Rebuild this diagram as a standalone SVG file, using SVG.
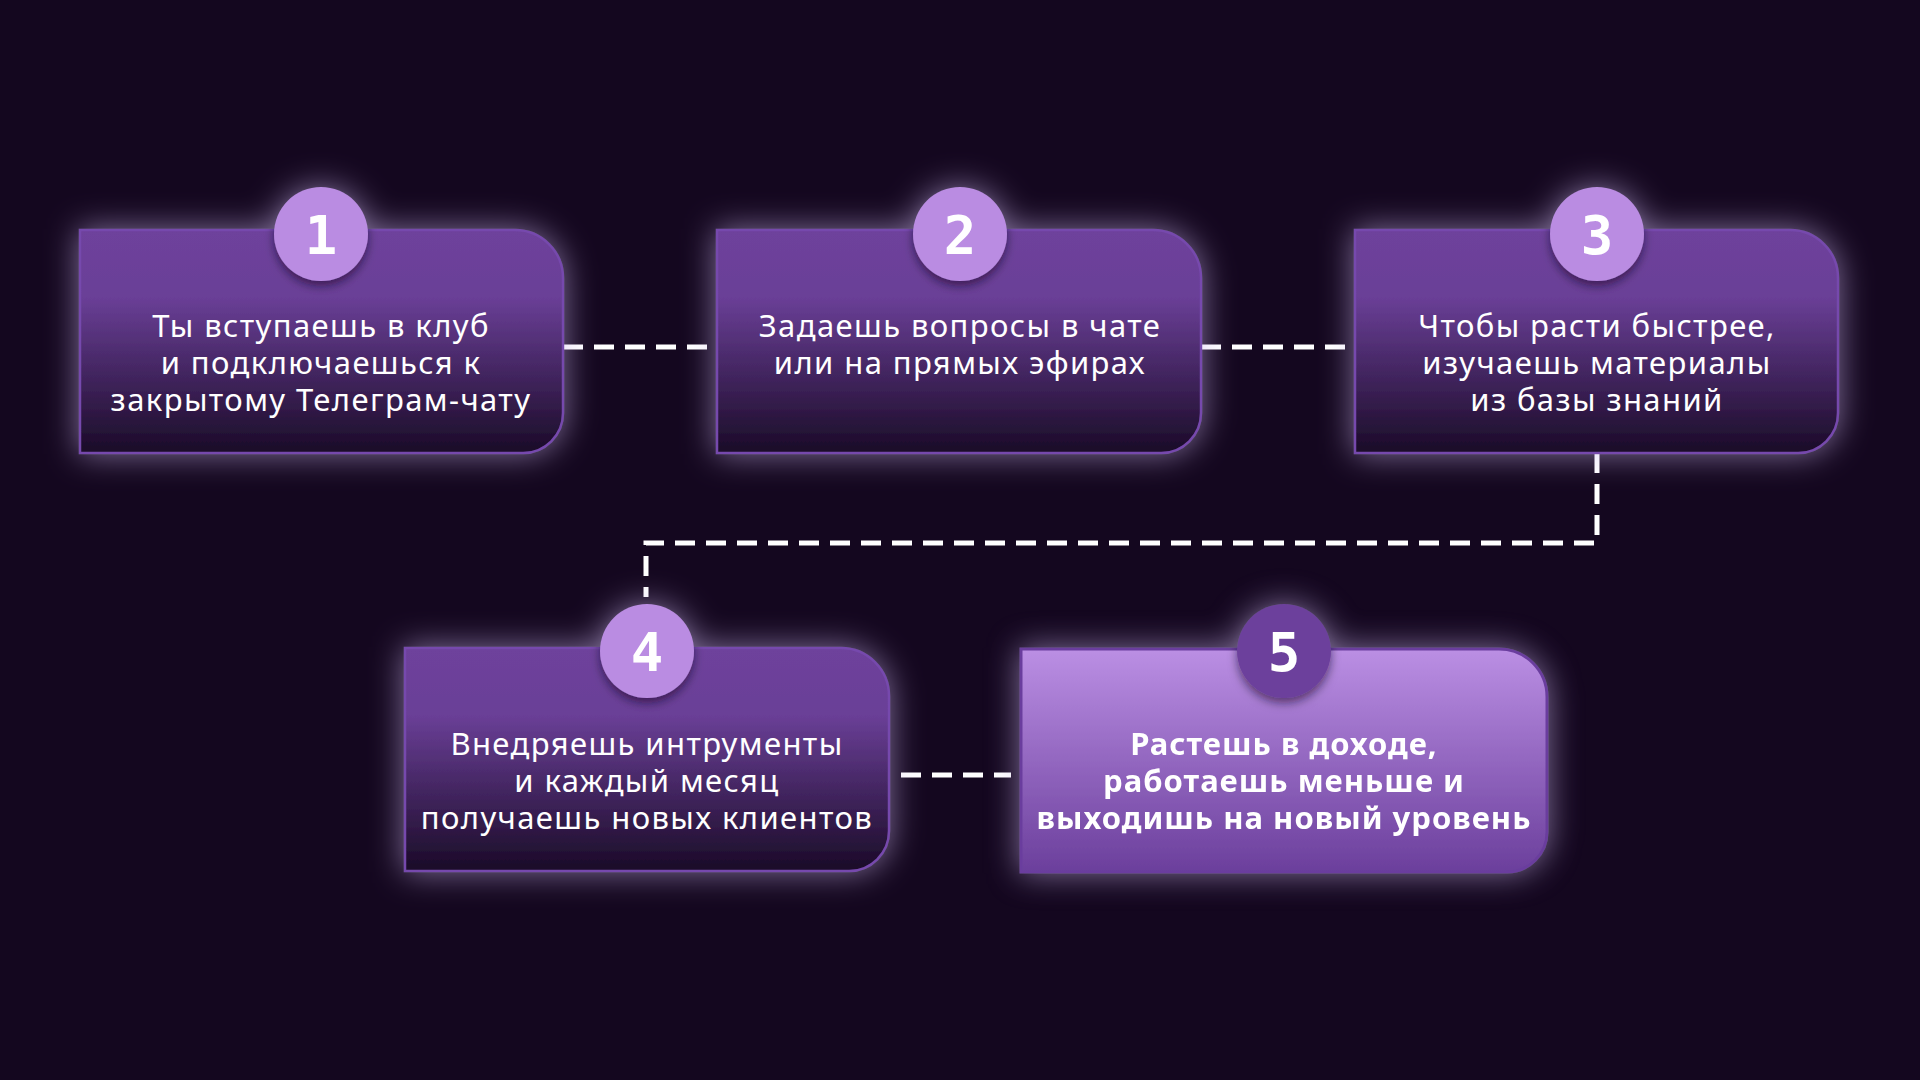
<svg xmlns="http://www.w3.org/2000/svg" width="1920" height="1080" viewBox="0 0 1920 1080">
  <defs>
    <linearGradient id="gDark" x1="0" y1="0" x2="0" y2="1">
      <stop offset="0" stop-color="#6e429c"/>
      <stop offset="0.3" stop-color="#6a3f97"/>
      <stop offset="1" stop-color="#1a0b27"/>
    </linearGradient>
    <linearGradient id="gLight" x1="0" y1="0" x2="0" y2="1">
      <stop offset="0" stop-color="#bb8fe4"/>
      <stop offset="1" stop-color="#6b3f9c"/>
    </linearGradient>
    <filter id="glow" x="-20%" y="-30%" width="140%" height="160%">
      <feFlood flood-color="#cdb8ee" flood-opacity="0.6" result="c"/>
      <feComposite in="c" in2="SourceAlpha" operator="in" result="s"/>
      <feGaussianBlur in="s" stdDeviation="16" result="b"/>
      <feMerge>
        <feMergeNode in="b"/>
        <feMergeNode in="SourceGraphic"/>
      </feMerge>
    </filter>
    <filter id="shadow" x="-30%" y="-30%" width="160%" height="170%">
      <feDropShadow dx="0" dy="5" stdDeviation="5" flood-color="#12061c" flood-opacity="0.55"/>
    </filter>
  </defs>
  <style>
    .box-dark { fill: url(#gDark); stroke: #7648ad; stroke-width: 2.5; }
    .box-light { fill: url(#gLight); stroke: #6a3e9e; stroke-width: 3; }
    .c-light { fill: #ba8ce2; }
    .c-dark { fill: #6c409c; }
    .num { font-family: "DejaVu Sans Mono", "Liberation Mono", monospace; font-weight: bold; font-size: 54px; fill: #ffffff; text-anchor: middle; }
    .txt { font-family: "Noto Sans", "Open Sans", sans-serif; font-size: 31px; letter-spacing: 1.4px; fill: #ffffff; text-anchor: middle; }
    .bold { font-weight: bold; letter-spacing: 1px; }
    .conn { fill: none; stroke: #ffffff; stroke-width: 5; stroke-dasharray: 20 11; }
  </style>
  <rect width="1920" height="1080" fill="#14071f"/>

  <g id="connectors">
    <path class="conn" d="M563 347 H717"/>
    <path class="conn" d="M1201 347 H1355"/>
    <path class="conn" d="M1597 453 V543 H646 V597"/>
    <path class="conn" d="M901 775 H1011"/>
  </g>

  <g id="node1">
    <g filter="url(#glow)">
      <path class="box-dark" d="M80 230 H515 A48 48 0 0 1 563 278 V413 A40 40 0 0 1 523 453 H80 Z"/>
      <circle class="c-light" cx="321" cy="234" r="47" filter="url(#shadow)"/>
    </g>
    <text class="num" x="321" y="254">1</text>
    <text class="txt" x="321" y="337">Ты вступаешь в клуб</text>
    <text class="txt" x="321" y="374">и подключаешься к</text>
    <text class="txt" x="321" y="411">закрытому Телеграм-чату</text>
  </g>

  <g id="node2">
    <g filter="url(#glow)">
      <path class="box-dark" d="M717 230 H1153 A48 48 0 0 1 1201 278 V413 A40 40 0 0 1 1161 453 H717 Z"/>
      <circle class="c-light" cx="960" cy="234" r="47" filter="url(#shadow)"/>
    </g>
    <text class="num" x="960" y="254">2</text>
    <text class="txt" x="960" y="337">Задаешь вопросы в чате</text>
    <text class="txt" x="960" y="374">или на прямых эфирах</text>
  </g>

  <g id="node3">
    <g filter="url(#glow)">
      <path class="box-dark" d="M1355 230 H1790 A48 48 0 0 1 1838 278 V413 A40 40 0 0 1 1798 453 H1355 Z"/>
      <circle class="c-light" cx="1597" cy="234" r="47" filter="url(#shadow)"/>
    </g>
    <text class="num" x="1597" y="254">3</text>
    <text class="txt" x="1597" y="337">Чтобы расти быстрее,</text>
    <text class="txt" x="1597" y="374">изучаешь материалы</text>
    <text class="txt" x="1597" y="411">из базы знаний</text>
  </g>

  <g id="node4">
    <g filter="url(#glow)">
      <path class="box-dark" d="M405 648 H841 A48 48 0 0 1 889 696 V831 A40 40 0 0 1 849 871 H405 Z"/>
      <circle class="c-light" cx="647" cy="651" r="47" filter="url(#shadow)"/>
    </g>
    <text class="num" x="647" y="671">4</text>
    <text class="txt" x="647" y="755">Внедряешь интрументы</text>
    <text class="txt" x="647" y="792">и каждый месяц</text>
    <text class="txt" x="647" y="829">получаешь новых клиентов</text>
  </g>

  <g id="node5">
    <g filter="url(#glow)">
      <path class="box-light" d="M1021 649 H1499 A48 48 0 0 1 1547 697 V832 A40 40 0 0 1 1507 872 H1021 Z"/>
      <circle class="c-dark" cx="1284" cy="651" r="47" filter="url(#shadow)"/>
    </g>
    <text class="num" x="1284" y="671">5</text>
    <text class="txt bold" x="1284" y="755">Растешь в доходе,</text>
    <text class="txt bold" x="1284" y="792">работаешь меньше и</text>
    <text class="txt bold" x="1284" y="829">выходишь на новый уровень</text>
  </g>
</svg>
